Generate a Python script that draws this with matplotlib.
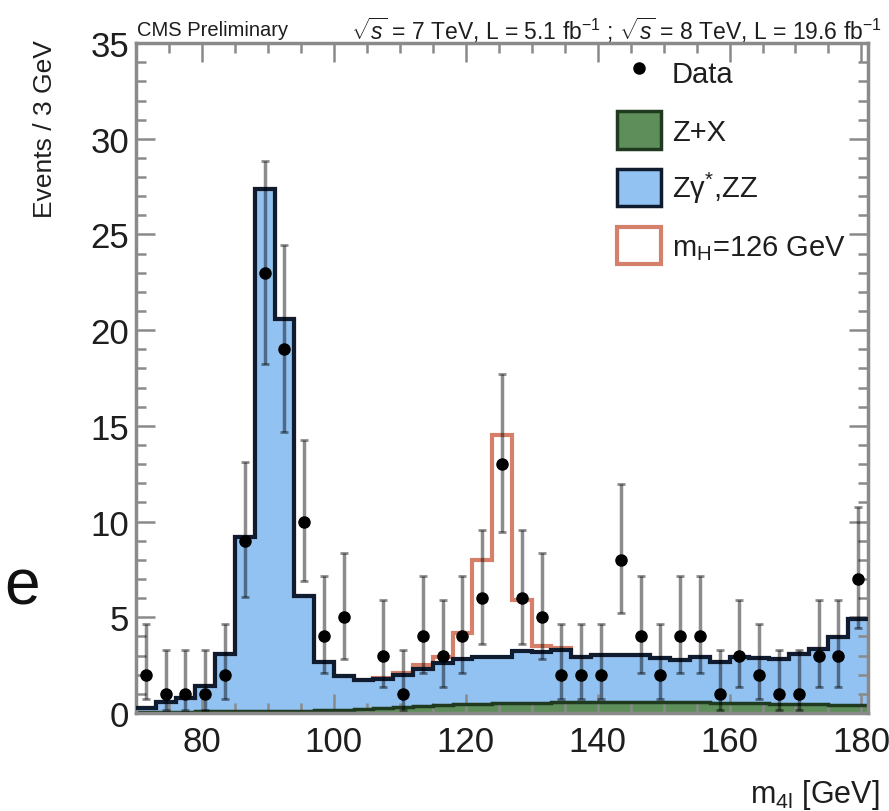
import numpy as np
import matplotlib
matplotlib.use("Agg")
import matplotlib.pyplot as plt
from matplotlib.ticker import MultipleLocator
from matplotlib.patches import Patch
from matplotlib.lines import Line2D

plt.rcParams['font.family'] = ['Liberation Sans', 'DejaVu Sans']
plt.rcParams['mathtext.fontset'] = 'custom'
plt.rcParams['mathtext.rm'] = 'Liberation Sans'
plt.rcParams['mathtext.it'] = 'Liberation Sans:italic'
plt.rcParams['mathtext.sf'] = 'Liberation Sans'

# 3 GeV bins from 70 to 181
edges = np.arange(70, 182, 3)
centers = edges[:-1] + 1.5

# observed events per bin
data = [2, 1, 1, 1, 2, 9, 23, 19, 10, 4, 5, 0, 3, 1, 4, 3, 4, 6, 13,
        6, 5, 2, 2, 2, 8, 4, 2, 4, 4, 1, 3, 2, 1, 1, 3, 3, 7]

# Z+X background
zx = [0.05, 0.06, 0.07, 0.08, 0.09, 0.10, 0.10, 0.12, 0.13, 0.15,
      0.18, 0.22, 0.27, 0.32, 0.37, 0.42, 0.45, 0.48, 0.50, 0.52,
      0.53, 0.55, 0.56, 0.57, 0.57, 0.57, 0.56, 0.55, 0.55, 0.54,
      0.52, 0.50, 0.49, 0.47, 0.45, 0.43, 0.42]

# Zgamma*, ZZ background
zz = [0.23, 0.49, 0.73, 1.32, 3.01, 9.10, 27.30, 20.48, 5.97, 2.50,
      1.77, 1.48, 1.53, 1.68, 1.93, 2.18, 2.35, 2.47, 2.45, 2.73,
      2.67, 2.75, 2.39, 2.48, 2.48, 2.46, 2.29, 2.20, 2.40, 2.11,
      2.38, 2.35, 2.33, 2.61, 2.90, 3.52, 4.48]

# mH = 126 GeV signal (stacked on top)
sig = [0, 0, 0, 0, 0, 0, 0, 0, 0, 0,
       0, 0, 0.05, 0.10, 0.20, 0.30, 1.40, 5.05, 11.55, 2.65,
       0.28, 0.10, 0, 0, 0, 0, 0, 0, 0, 0,
       0, 0, 0, 0, 0, 0, 0]

zx = np.array(zx)
zz = np.array(zz)
sig = np.array(sig)
data = np.array(data, dtype=float)
bkg = zx + zz

# 68% Poisson intervals (Wilson-Hilferty approx of Garwood)
n0 = np.maximum(data, 1)
lo = np.where(data > 0, data * (1 - 1 / (9 * n0) - 1 / (3 * np.sqrt(n0))) ** 3, 0)
n1 = data + 1
hi = n1 * (1 - 1 / (9 * n1) + 1 / (3 * np.sqrt(n1))) ** 3

green = '#5e8f5a'
green_edge = '#1f3a1f'
blue = '#92c2f2'
navy = '#0f1b2e'
red = '#d5806a'
txt = '#1e1e1e'

fig = plt.figure(figsize=(8.89, 8.12), dpi=100)
ax = fig.add_axes([0.153, 0.1207, 0.8234, 0.825])

ax.stairs(zx, edges, baseline=0, fill=True, color=green, zorder=1)
ax.stairs(bkg, edges, baseline=zx, fill=True, color=blue, zorder=1)
ax.stairs(zx, edges, baseline=None, color=green_edge, lw=2.5, zorder=2)
ax.stairs(bkg + sig, edges, baseline=None, color=red, lw=3, zorder=2)
ax.stairs(bkg, edges, baseline=None, color=navy, lw=3, zorder=3)

m = data > 0
ax.errorbar(centers[m], data[m], yerr=[data[m] - lo[m], hi[m] - data[m]],
            fmt='none', ecolor=(0, 0, 0, 0.45), elinewidth=2.5,
            capsize=3, capthick=2, zorder=4)
ax.plot(centers[m], data[m], 'o', color='black', ms=8, zorder=5)

ax.set_xlim(70, 181)
ax.set_ylim(0, 35)
ax.xaxis.set_major_locator(MultipleLocator(20))
ax.xaxis.set_minor_locator(MultipleLocator(5))
ax.yaxis.set_major_locator(MultipleLocator(5))
ax.yaxis.set_minor_locator(MultipleLocator(1))
ax.tick_params(which='both', direction='in', top=True, right=True,
               color='#8a8a8a', width=1.8)
ax.tick_params(which='major', length=14, labelsize=25, labelcolor=txt)
ax.tick_params(which='minor', length=7.5)
ax.tick_params(axis='x', which='major', pad=9)
ax.tick_params(axis='y', which='major', pad=5)
for s in ax.spines.values():
    s.set_color('#8a8a8a')
    s.set_linewidth(2.5)

handles = [
    Line2D([], [], marker='o', color='black', ls='none', ms=8),
    Patch(facecolor=green, edgecolor=green_edge, lw=2.5),
    Patch(facecolor=blue, edgecolor=navy, lw=2.5),
    Patch(facecolor='white', edgecolor=red, lw=3),
]
labels = ['Data', 'Z+X', 'Zγ$^{*}$,ZZ', r'm$_{\mathrm{H}}$=126 GeV']
ax.legend(handles, labels, loc='upper left', bbox_to_anchor=(0.657, 0.984),
          frameon=False, fontsize=21, borderpad=0, borderaxespad=0,
          handlelength=1.5, handleheight=1.6, handletextpad=0.38,
          labelspacing=0.69, labelcolor=txt)

fig.text(137 / 889, 1 - 30 / 812, 'CMS Preliminary', fontsize=14.5,
         ha='left', va='center', color=txt)
fig.text(882 / 889, 1 - 30 / 812,
         r'$\sqrt{s}$ = 7 TeV, L = 5.1 fb$^{-1}$ ; $\sqrt{s}$ = 8 TeV, L = 19.6 fb$^{-1}$',
         fontsize=16.5, ha='right', va='center', color=txt)
fig.text(45 / 889, 1 - 40 / 812, 'Events / 3 GeV', rotation=90, fontsize=19,
         ha='center', va='top', color=txt)
fig.text(880 / 889, 1 - 795 / 812, r'm$_{\mathrm{4l}}$ [GeV]', fontsize=22,
         ha='right', va='center', color=txt)
fig.text(22 / 889, 1 - 588 / 812, 'e', fontsize=46, ha='center', va='center',
         color='#111111')

fig.savefig('out.png', dpi=100)
